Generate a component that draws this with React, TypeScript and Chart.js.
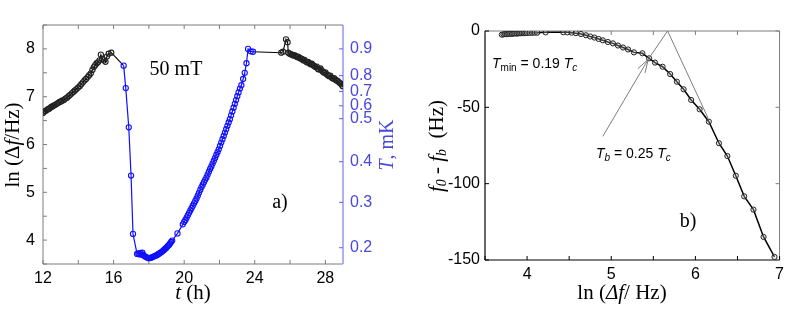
import React, { useEffect, useRef } from "react";
import { Chart, registerables } from "chart.js";
Chart.register(...registerables);

// ---------- Panel a) data ----------
const T_BLACK_A = [12.00,12.07,12.14,12.21,12.28,12.35,12.42,12.49,12.56,12.63,12.70,12.78,12.86,12.94,13.02,13.10,13.18,13.27,13.36,13.45,13.54,13.63,13.72,13.81,13.90,13.99,14.08,14.17,14.26,14.35,14.44,14.53,14.62,14.71,14.80,14.88,14.96,15.04,15.12,15.20,15.28,15.36,15.46,15.54,15.62,15.72,15.87];
const LN_BLACK_A = [6.66,6.69,6.70,6.72,6.74,6.75,6.77,6.79,6.80,6.82,6.83,6.85,6.87,6.89,6.90,6.92,6.93,6.96,6.98,7.01,7.04,7.07,7.10,7.13,7.16,7.19,7.22,7.26,7.30,7.34,7.37,7.41,7.45,7.49,7.56,7.62,7.66,7.70,7.72,7.76,7.88,7.79,7.76,7.73,7.84,7.90,7.92];

const T_BLUE = [16.57,16.69,16.86,16.99,17.10,17.33,17.40,17.47,17.53,17.58,17.63,17.68,17.74,17.80,17.87,17.94,18.00,18.06,18.12,18.18,18.24,18.30,18.36,18.42,18.48,18.54,18.60,18.66,18.72,18.78,18.84,18.90,18.96,19.02,19.08,19.14,19.20,19.26,19.32,19.62,19.92,20.00,20.07,20.14,20.21,20.28,20.35,20.42,20.49,20.56,20.63,20.70,20.77,20.84,20.91,20.98,21.05,21.12,21.19,21.26,21.33,21.40,21.47,21.54,21.61,21.68,21.75,21.82,21.89,21.96,22.03,22.10,22.17,22.24,22.31,22.38,22.45,22.52,22.59,22.66,22.73,22.80,22.87,22.94,23.01,23.08,23.16,23.24,23.34,23.43,23.53,23.62,23.77,23.90];
const LN_BLUE = [7.65,7.18,6.36,5.35,4.13,3.71,3.72,3.70,3.73,3.70,3.74,3.69,3.67,3.65,3.64,3.63,3.62,3.63,3.63,3.64,3.65,3.66,3.67,3.68,3.69,3.71,3.72,3.74,3.75,3.77,3.79,3.81,3.83,3.85,3.88,3.90,3.93,3.96,3.99,4.14,4.33,4.38,4.42,4.47,4.52,4.57,4.62,4.67,4.72,4.77,4.82,4.87,4.93,4.99,5.05,5.11,5.16,5.21,5.26,5.31,5.37,5.43,5.49,5.54,5.60,5.66,5.72,5.78,5.84,5.90,5.97,6.04,6.11,6.18,6.25,6.32,6.39,6.46,6.53,6.61,6.69,6.77,6.85,6.93,7.01,7.09,7.17,7.24,7.37,7.50,7.70,8.00,7.95,7.94];

const T_BLACK_B = [25.50,25.60,25.77,25.86,25.90,25.97,26.04,26.11,26.18,26.25,26.32,26.39,26.46,26.53,26.60,26.67,26.74,26.81,26.88,26.95,27.02,27.09,27.16,27.23,27.30,27.37,27.44,27.51,27.58,27.65,27.72,27.79,27.86,27.93,28.00,28.07,28.14,28.21,28.28,28.35,28.42,28.49,28.56,28.63,28.70,28.77,28.84,28.91,28.98];
const LN_BLACK_B = [7.92,7.94,8.20,8.14,7.92,7.90,7.89,7.88,7.86,7.87,7.85,7.83,7.84,7.81,7.80,7.79,7.76,7.77,7.74,7.72,7.73,7.70,7.68,7.69,7.66,7.64,7.62,7.63,7.58,7.57,7.59,7.55,7.52,7.50,7.51,7.47,7.45,7.43,7.44,7.40,7.38,7.39,7.36,7.34,7.33,7.30,7.28,7.26,7.22];

// tick values of panel a)
const X_TICKS_A = [12, 14, 16, 18, 20, 22, 24, 26, 28];
const X_LABELS_A = [12, 16, 20, 24, 28];
const Y_TICKS_A = [3.5, 4, 4.5, 5, 5.5, 6, 6.5, 7, 7.5, 8, 8.5];
const Y_LABELS_A = [4, 5, 6, 7, 8];
// right axis of panel a): T (mK) tick positions expressed in ln(Δf/Hz) units
const T_TICK_POS = [3.84, 4.79, 5.64, 6.54, 6.81, 7.11, 7.44, 8.0];
const T_TICK_LABELS = ["0.2", "0.3", "0.4", "0.5", "0.6", "0.7", "0.8", "0.9"];

// ---------- Panel b) data ----------
const LNF_B = [3.70,3.72,3.74,3.76,3.78,3.80,3.82,3.84,3.86,3.88,3.90,3.92,3.94,3.96,3.98,4.00,4.03,4.06,4.09,4.12,4.22,4.43,4.48,4.53,4.58,4.64,4.70,4.75,4.80,4.85,4.90,4.96,5.02,5.08,5.14,5.20,5.27,5.37,5.45,5.52,5.61,5.70,5.78,5.86,5.95,6.05,6.16,6.28,6.38,6.48,6.58,6.69,6.81,6.94];
const DF_B = [-2.4,-2.2,-2.0,-2.1,-1.9,-1.8,-1.9,-1.7,-1.6,-1.7,-1.5,-1.5,-1.4,-1.4,-1.3,-1.3,-1.2,-1.2,-1.1,-1.1,-0.9,-0.8,-0.9,-1.1,-1.4,-2.0,-2.8,-3.6,-4.3,-5.2,-6.1,-7.2,-8.1,-9.5,-10.8,-12.1,-14.0,-14.6,-17.9,-20.7,-23.4,-28.2,-33.2,-38.2,-45.2,-51.3,-59.4,-73.5,-81.9,-94.8,-108.3,-117,-134.9,-148];

const X_TICKS_B = [3.5, 4, 4.5, 5, 5.5, 6, 6.5, 7];
const X_LABELS_B = [4, 5, 6, 7];
const Y_TICKS_B = [-150, -100, -50, 0];

// annotation anchor points (data units of panel b)
const ANN_APEX = { x: 5.67, y: 0 };
const ANN_TIP = { x: 5.44, y: -18.5 };
const ANN_RIGHT_END = { x: 6.15, y: -57 };
const ANN_TAIL = { x: 4.90, y: -69 };

const SERIF = '"Liberation Serif", "Times New Roman", serif';
const SANS = '"Liberation Sans", Arial, sans-serif';
const BLUE_AXIS = "rgb(96,96,232)";
const BLUE_TEXT = "rgb(72,72,220)";
const BLUE_LINE = "rgb(16,16,255)";
const GRAY = "rgb(125,125,125)";

const pts = (xs: number[], ys: number[]) => xs.map((x, i) => ({ x, y: ys[i] }));
const setTicks = (vals: number[]) => (s: any) => {
  s.ticks = vals.map((v) => ({ value: v }));
};
const labelIf = (vals: number[]) => (v: any) => (vals.includes(Number(v)) ? String(v) : "");

type Seg = { t: string; it?: boolean; sz?: number; dy?: number };
function drawRich(
  ctx: CanvasRenderingContext2D,
  segs: Seg[],
  x: number,
  y: number,
  fam: string,
  size: number,
  color: string,
  align: "center" | "left" = "center",
  rot = 0
) {
  ctx.save();
  ctx.translate(x, y);
  if (rot) ctx.rotate(rot);
  ctx.fillStyle = color;
  ctx.textBaseline = "middle";
  ctx.textAlign = "left";
  const fonts = segs.map((s) => `${s.it ? "italic " : ""}${s.sz ?? size}px ${fam}`);
  let total = 0;
  const ws = segs.map((s, i) => {
    ctx.font = fonts[i];
    const w = ctx.measureText(s.t).width;
    total += w;
    return w;
  });
  let cx = align === "center" ? -total / 2 : 0;
  segs.forEach((s, i) => {
    ctx.font = fonts[i];
    ctx.fillText(s.t, cx, s.dy ?? 0);
    cx += ws[i];
  });
  ctx.restore();
}

function line(ctx: CanvasRenderingContext2D, x1: number, y1: number, x2: number, y2: number, color: string, w = 1) {
  ctx.beginPath();
  ctx.strokeStyle = color;
  ctx.lineWidth = w;
  ctx.moveTo(x1, y1);
  ctx.lineTo(x2, y2);
  ctx.stroke();
}

const TICK = 4;

const frameA = {
  id: "frameA",
  beforeDatasetsDraw(chart: any) {
    const { ctx, chartArea: a, scales } = chart;
    ctx.save();
    line(ctx, a.left, a.top, a.right, a.top, GRAY);
    line(ctx, a.left, a.top, a.left, a.bottom, GRAY);
    line(ctx, a.left, a.bottom, a.right, a.bottom, GRAY);
    line(ctx, a.right, a.top, a.right, a.bottom, BLUE_AXIS);
    scales.x.ticks.forEach((t: any) => {
      const px = scales.x.getPixelForValue(t.value);
      line(ctx, px, a.bottom, px, a.bottom - TICK, GRAY);
      line(ctx, px, a.top, px, a.top + TICK, GRAY);
    });
    scales.y.ticks.forEach((t: any) => {
      const py = scales.y.getPixelForValue(t.value);
      line(ctx, a.left, py, a.left + TICK, py, GRAY);
    });
    scales.y1.ticks.forEach((t: any) => {
      const py = scales.y1.getPixelForValue(t.value);
      line(ctx, a.right, py, a.right - TICK, py, BLUE_AXIS);
    });
    ctx.restore();
  },
  afterDraw(chart: any) {
    const { ctx } = chart;
    drawRich(ctx, [{ t: "ln (" }, { t: "Δ" }, { t: "f", it: true }, { t: "/Hz)" }], 13, 145, SERIF, 21, "#000", "center", -Math.PI / 2);
    drawRich(ctx, [{ t: "t", it: true }, { t: " (h)" }], 193, 293, SERIF, 21, "#000");
    drawRich(ctx, [{ t: "T", it: true }, { t: ", mK" }], 388, 145, SERIF, 20, BLUE_TEXT, "center", -Math.PI / 2);
    drawRich(ctx, [{ t: "50 mT" }], 176, 70, SERIF, 20, "#000");
    drawRich(ctx, [{ t: "a)" }], 280, 203, SERIF, 20, "#000");
  },
};

const frameB = {
  id: "frameB",
  beforeDatasetsDraw(chart: any) {
    const { ctx, chartArea: a, scales } = chart;
    ctx.save();
    line(ctx, a.left, a.top, a.right, a.top, GRAY);
    line(ctx, a.right, a.top, a.right, a.bottom, GRAY);
    line(ctx, a.left, a.top, a.left, a.bottom, "#000", 1.2);
    line(ctx, a.left, a.bottom, a.right, a.bottom, "#000", 1.2);
    scales.x.ticks.forEach((t: any) => {
      const px = scales.x.getPixelForValue(t.value);
      line(ctx, px, a.bottom, px, a.bottom - TICK, "#000");
      line(ctx, px, a.top, px, a.top + TICK, GRAY);
    });
    scales.y.ticks.forEach((t: any) => {
      const py = scales.y.getPixelForValue(t.value);
      line(ctx, a.left, py, a.left + TICK, py, "#000");
      line(ctx, a.right, py, a.right - TICK, py, GRAY);
    });
    ctx.restore();
  },
  afterDatasetsDraw(chart: any) {
    const { ctx, scales } = chart;
    const P = (p: { x: number; y: number }) => ({ x: scales.x.getPixelForValue(p.x), y: scales.y.getPixelForValue(p.y) });
    const apex = P(ANN_APEX), tip = P(ANN_TIP), rEnd = P(ANN_RIGHT_END), tail = P(ANN_TAIL);
    ctx.save();
    const c = "rgb(110,110,110)";
    line(ctx, apex.x, apex.y, tip.x, tip.y, c, 0.9);
    line(ctx, apex.x, apex.y, rEnd.x, rEnd.y, c, 0.9);
    line(ctx, tail.x, tail.y, tip.x, tip.y, c, 0.9);
    const ang = Math.atan2(tail.y - tip.y, tail.x - tip.x);
    const L = 14;
    [-0.3, 0.3].forEach((d) => {
      line(ctx, tip.x, tip.y, tip.x + L * Math.cos(ang + d), tip.y + L * Math.sin(ang + d), c, 0.9);
    });
    ctx.restore();
  },
  afterDraw(chart: any) {
    const { ctx } = chart;
    drawRich(
      ctx,
      [{ t: "f", it: true }, { t: "0", it: true, sz: 14, dy: 5 }, { t: " - " }, { t: "f", it: true }, { t: "b", it: true, sz: 14, dy: 5 }, { t: "  (Hz)" }],
      37, 146, SERIF, 21, "#000", "center", -Math.PI / 2
    );
    drawRich(ctx, [{ t: "ln (" }, { t: "Δf", it: true }, { t: "/ Hz)" }], 222, 293, SERIF, 21, "#000");
    drawRich(ctx, [{ t: "b)" }], 288, 222, SERIF, 20, "#000");
    drawRich(
      ctx,
      [{ t: "T", it: true }, { t: "min", sz: 10, dy: 4 }, { t: " = 0.19 " }, { t: "T", it: true }, { t: "c", it: true, sz: 10, dy: 4 }],
      92, 64, SANS, 14, "#000", "left"
    );
    drawRich(
      ctx,
      [{ t: "T", it: true }, { t: "b", it: true, sz: 10, dy: 4 }, { t: " = 0.25 " }, { t: "T", it: true }, { t: "c", it: true, sz: 10, dy: 4 }],
      196, 154, SANS, 14, "#000", "left"
    );
  },
};

const tickFont = { family: SANS, size: 16 };

export default function App() {
  const refA = useRef<HTMLCanvasElement>(null);
  const refB = useRef<HTMLCanvasElement>(null);

  useEffect(() => {
    document.body.style.margin = "0";
    const bluePts = pts(T_BLUE, LN_BLUE);
    const blackA = [...pts(T_BLACK_A, LN_BLACK_A), bluePts[0]];
    const blackB = [bluePts[bluePts.length - 1], ...pts(T_BLACK_B, LN_BLACK_B)];
    const nA = blackA.length - 1;

    const chartA = new Chart(refA.current!, {
      type: "scatter",
      data: {
        datasets: [
          {
            data: bluePts,
            showLine: true,
            borderColor: BLUE_LINE,
            borderWidth: 1.2,
            pointRadius: 2.6,
            pointBorderWidth: 1.1,
            pointBorderColor: BLUE_LINE,
            pointBackgroundColor: "rgba(255,255,255,0)",
            yAxisID: "y",
          },
          {
            data: blackA,
            showLine: true,
            borderColor: "#000",
            borderWidth: 1.1,
            pointRadius: (c: any) => (c.dataIndex === nA ? 0 : 2.6),
            pointBorderWidth: 1.1,
            pointBorderColor: "#222",
            pointBackgroundColor: "rgba(255,255,255,0)",
            yAxisID: "y",
          },
          {
            data: blackB,
            showLine: true,
            borderColor: "#000",
            borderWidth: 1.1,
            pointRadius: (c: any) => (c.dataIndex === 0 ? 0 : 2.6),
            pointBorderWidth: 1.1,
            pointBorderColor: "#222",
            pointBackgroundColor: "rgba(255,255,255,0)",
            yAxisID: "y",
          },
        ],
      },
      options: {
        animation: false,
        responsive: false,
        maintainAspectRatio: false,
        layout: { padding: { top: 25, left: 0, right: 0, bottom: 0 }, autoPadding: false } as any,
        plugins: { legend: { display: false }, tooltip: { enabled: false } },
        scales: {
          x: {
            type: "linear",
            min: 12,
            max: 29,
            grid: { display: false, drawTicks: false },
            border: { display: false },
            afterBuildTicks: setTicks(X_TICKS_A),
            ticks: {
              autoSkip: false,
              maxRotation: 0,
              padding: 5,
              font: tickFont,
              color: "#000",
              callback: labelIf(X_LABELS_A),
            },
            afterFit: (s: any) => {
              s.height = 57;
            },
          },
          y: {
            type: "linear",
            position: "left",
            min: 3.5,
            max: 8.5,
            grid: { display: false, drawTicks: false },
            border: { display: false },
            afterBuildTicks: setTicks(Y_TICKS_A),
            ticks: {
              autoSkip: false,
              padding: 8,
              font: tickFont,
              color: "#000",
              callback: labelIf(Y_LABELS_A),
            },
            afterFit: (s: any) => {
              s.width = 43;
            },
          },
          y1: {
            type: "linear",
            position: "right",
            min: 3.5,
            max: 8.5,
            grid: { display: false, drawTicks: false },
            border: { display: false },
            afterBuildTicks: setTicks(T_TICK_POS),
            ticks: {
              autoSkip: false,
              padding: 7,
              font: tickFont,
              color: BLUE_TEXT,
              callback: (_v: any, i: number) => T_TICK_LABELS[i],
            },
            afterFit: (s: any) => {
              s.width = 57;
            },
          },
        },
      } as any,
      plugins: [frameA],
    });

    const chartB = new Chart(refB.current!, {
      type: "scatter",
      data: {
        datasets: [
          {
            data: pts(LNF_B, DF_B),
            showLine: true,
            borderColor: "#000",
            borderWidth: 1.5,
            pointRadius: 2.6,
            pointBorderWidth: 1,
            pointBorderColor: "#222",
            pointBackgroundColor: "rgba(200,200,200,0.3)",
          },
        ],
      },
      options: {
        animation: false,
        responsive: false,
        maintainAspectRatio: false,
        layout: { padding: { top: 31, left: 0, right: 4, bottom: 0 }, autoPadding: false } as any,
        plugins: { legend: { display: false }, tooltip: { enabled: false } },
        scales: {
          x: {
            type: "linear",
            min: 3.5,
            max: 7,
            grid: { display: false, drawTicks: false },
            border: { display: false },
            afterBuildTicks: setTicks(X_TICKS_B),
            ticks: {
              autoSkip: false,
              maxRotation: 0,
              padding: 5,
              font: tickFont,
              color: "#000",
              callback: labelIf(X_LABELS_B),
            },
            afterFit: (s: any) => {
              s.height = 61;
            },
          },
          y: {
            type: "linear",
            min: -150,
            max: 0,
            grid: { display: false, drawTicks: false },
            border: { display: false },
            afterBuildTicks: setTicks(Y_TICKS_B),
            ticks: {
              autoSkip: false,
              padding: 5,
              font: tickFont,
              color: "#000",
            },
            afterFit: (s: any) => {
              s.width = 85;
            },
          },
        },
      } as any,
      plugins: [frameB],
    });

    return () => {
      chartA.destroy();
      chartB.destroy();
    };
  }, []);

  return (
    <div style={{ position: "relative", width: 789, height: 321, background: "#fff" }}>
      <canvas ref={refA} width={400} height={321} style={{ position: "absolute", left: 0, top: 0, display: "block" }} />
      <canvas ref={refB} width={389} height={321} style={{ position: "absolute", left: 400, top: 0, display: "block" }} />
    </div>
  );
}
